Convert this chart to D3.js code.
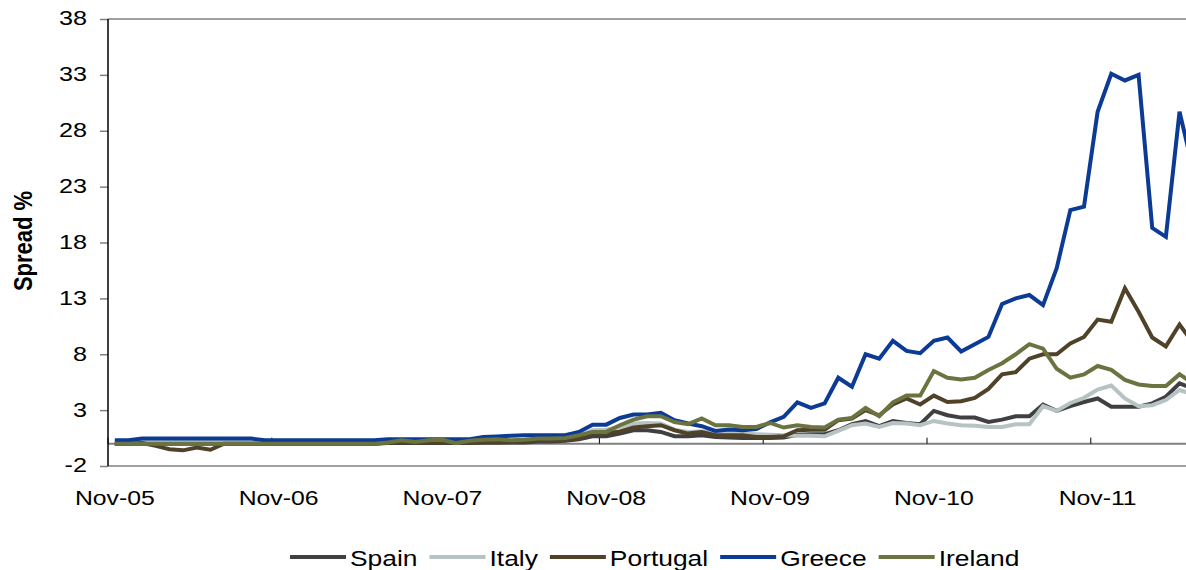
<!DOCTYPE html>
<html>
<head>
<meta charset="utf-8">
<script src="https://cdn.jsdelivr.net/npm/d3@7"></script>
<style>
    body { margin: 0; background: #ffffff; overflow: hidden; }
    text { font-family: Arial, "Liberation Sans", sans-serif; fill: #000000; }
</style>
</head>
<body>
<div id="container"></div>
<script>
"use strict"

// monthly categories, Nov-05 .. Jun-12
const months = d3.timeMonth.range(new Date(2005, 10, 1), new Date(2012, 6, 1));
const tickLabels = ["Nov-05", "Nov-06", "Nov-07", "Nov-08", "Nov-09", "Nov-10", "Nov-11"];
const yTicks = [-2, 3, 8, 13, 18, 23, 28, 33, 38];
const seriesNames = ["Spain", "Italy", "Portugal", "Greece", "Ireland"];

const spain = [
    0, 0, 0, 0, 0, 0, 0, 0, 0, 0, 0, 0, 0, 0, 0, 0, 0, 0, 0, 0,
    0.05, 0.05, 0.05, 0.05, 0.05, 0.05, 0.05, 0.1, 0.1, 0.1, 0.1,
    0.2, 0.2, 0.25, 0.4, 0.66, 0.66, 0.9, 1.2, 1.2, 1.05, 0.66, 0.66, 0.75, 0.6, 0.55, 0.5, 0.5, 0.5, 0.55,
    0.8, 0.85, 0.85, 1.2, 1.74, 2.03, 1.56, 2.03, 1.85, 1.74, 2.93, 2.54, 2.33, 2.33, 1.94, 2.15, 2.45, 2.45,
    3.5, 2.93, 3.35, 3.73, 4.04, 3.3, 3.3, 3.3, 3.6, 4.2, 5.4, 4.9
];
const italy = [
    0.15, 0.15, 0.15, 0.15, 0.15, 0.15, 0.15, 0.15, 0.15, 0.15, 0.15, 0.15, 0.15, 0.15, 0.15, 0.15, 0.15, 0.15, 0.15, 0.15,
    0.2, 0.2, 0.2, 0.2, 0.2, 0.2, 0.2, 0.2, 0.2, 0.2, 0.25,
    0.4, 0.4, 0.45, 0.7, 1.2, 1.25, 1.5, 1.8, 1.85, 1.8, 1.25, 1.05, 1.1, 0.96, 0.96, 0.9, 0.85, 0.8, 0.75,
    0.7, 0.7, 0.66, 1.14, 1.65, 1.8, 1.5, 1.85, 1.8, 1.65, 2.03, 1.8, 1.65, 1.6, 1.5, 1.5, 1.74, 1.74,
    3.35, 2.93, 3.64, 4.1, 4.84, 5.2, 4.04, 3.35, 3.44, 3.9, 4.8, 4.4
];
const portugal = [
    0, 0, 0.05, -0.2, -0.5, -0.6, -0.35, -0.55, 0, 0, 0, 0, 0, 0, 0, 0, 0, 0, 0, 0,
    0.1, 0.1, 0.1, 0.1, 0.1, 0.1, 0.1, 0.1, 0.1, 0.15, 0.2,
    0.3, 0.3, 0.3, 0.45, 0.9, 0.9, 1.1, 1.44, 1.56, 1.65, 1.2, 0.9, 1.05, 0.75, 0.75, 0.75, 0.6, 0.6, 0.66,
    1.2, 1.25, 1.25, 2.1, 2.25, 3.0, 2.54, 3.5, 4.04, 3.5, 4.3, 3.73, 3.8, 4.1, 4.9, 6.2, 6.4, 7.6,
    8.0, 8.0, 8.96, 9.55, 11.1, 10.9, 13.9, 11.8, 9.5, 8.7, 10.66, 9.0
];
const greece = [
    0.3, 0.3, 0.45, 0.45, 0.45, 0.45, 0.45, 0.45, 0.45, 0.45, 0.45, 0.3, 0.3, 0.3, 0.3, 0.3, 0.3, 0.3, 0.3, 0.3,
    0.4, 0.4, 0.4, 0.4, 0.4, 0.4, 0.4, 0.6, 0.65, 0.7, 0.75,
    0.75, 0.75, 0.75, 1.05, 1.7, 1.7, 2.3, 2.6, 2.6, 2.75, 2.1, 1.8, 1.56, 1.14, 1.26, 1.2, 1.3, 1.9, 2.4,
    3.7, 3.2, 3.6, 5.9, 5.1, 8.0, 7.6, 9.2, 8.3, 8.1, 9.2, 9.5, 8.25, 8.9, 9.55, 12.5, 13.0, 13.3,
    12.4, 15.7, 20.9, 21.2, 29.7, 33.1, 32.5, 33.0, 19.3, 18.5, 29.7, 24.5
];
const ireland = [
    0, 0, 0, 0, 0, 0, 0, 0, 0, 0, 0, 0, 0, 0, 0, 0, 0, 0, 0, 0,
    0.1, 0.3, 0.15, 0.3, 0.35, 0.05, 0.25, 0.35, 0.4, 0.3, 0.35,
    0.45, 0.45, 0.5, 0.75, 1.05, 1.05, 1.65, 2.15, 2.45, 2.45, 1.94, 1.74, 2.25, 1.65, 1.65, 1.5, 1.5, 1.85, 1.44,
    1.65, 1.5, 1.45, 2.15, 2.3, 3.2, 2.45, 3.7, 4.3, 4.3, 6.5, 5.9, 5.75, 5.9, 6.6, 7.2, 8.0, 8.9,
    8.5, 6.7, 5.9, 6.2, 6.95, 6.6, 5.7, 5.3, 5.15, 5.15, 6.2, 5.4
];

const seriesValues = [spain, italy, portugal, greece, ireland];
const seriesColors = ["#404040", "#b7c2c2", "#4f4229", "#0b3b94", "#6b7440"];

const width = 1186;
const height = 570;
const plotLeft = 108;
const plotTop = 19;
const plotBottom = 466;
const monthWidth = 13.65;
const textStretch = 1.2;
const axisGrey = "#808080";

let svg;
let xScale;
let yScale;


function Main()
{
    CreateSVG();
    CreateScales();
    DrawAxes();
    DrawLines();
    DrawLegend();
    DrawTitle();
};


function CreateSVG()
{
    svg = d3.select("#container")
        .append("svg")
        .attr("width", width)
        .attr("height", height);
};


function CreateScales()
{
    xScale = d3.scaleBand()
        .domain(months.map((_, i) => i))
        .range([plotLeft, plotLeft + months.length * monthWidth])
        .paddingInner(0)
        .paddingOuter(0);

    yScale = d3.scaleLinear()
        .domain([-2, 38])
        .range([plotBottom, plotTop]);
};


function DrawAxes()
{
    // y axis ticks and labels (plain hyphen for the negative tick)
    const yAxis = svg.append("g")
        .attr("transform", `translate(${plotLeft},0)`)
        .call(d3.axisLeft(yScale).tickValues(yTicks).tickSize(8).tickFormat(d => String(d)));

    yAxis.select(".domain").remove();
    yAxis.selectAll(".tick line")
        .attr("stroke", axisGrey)
        .attr("stroke-width", 1.5);
    yAxis.selectAll(".tick text")
        .attr("x", null)
        .attr("dy", "0.33em")
        .attr("text-anchor", "end")
        .attr("transform", `translate(-21,-1) scale(${textStretch},1)`)
        .style("font-size", "21px")
        .style("font-family", "Arial, 'Liberation Sans', sans-serif");

    // top and bottom lines
    [38, -2].forEach(v => {
        svg.append("line")
            .attr("x1", plotLeft)
            .attr("x2", width)
            .attr("y1", yScale(v))
            .attr("y2", yScale(v))
            .attr("stroke", axisGrey)
            .attr("stroke-width", 1.5);
    });

    // zero line
    svg.append("line")
        .attr("x1", plotLeft)
        .attr("x2", width)
        .attr("y1", yScale(0))
        .attr("y2", yScale(0))
        .attr("stroke", axisGrey)
        .attr("stroke-width", 2);

    // category ticks on the zero line, one per year
    const yearStarts = tickLabels.map((_, i) => i * 12);
    svg.append("g")
        .selectAll("line")
        .data(yearStarts)
        .enter()
        .append("line")
        .attr("x1", d => xScale(d))
        .attr("x2", d => xScale(d))
        .attr("y1", yScale(0))
        .attr("y2", yScale(0) - 6)
        .attr("stroke", "#000000")
        .attr("stroke-width", 1);

    svg.append("g")
        .selectAll("text")
        .data(tickLabels)
        .enter()
        .append("text")
        .attr("transform", (_, i) => `translate(${xScale(i * 12) + xScale.bandwidth() / 2},505) scale(1.18,1)`)
        .attr("text-anchor", "middle")
        .style("font-size", "21px")
        .text(d => d);

    // left axis line
    svg.append("line")
        .attr("x1", plotLeft)
        .attr("x2", plotLeft)
        .attr("y1", plotTop)
        .attr("y2", plotBottom)
        .attr("stroke", "#000000")
        .attr("stroke-width", 1.5);
};


function DrawLines()
{
    const line = d3.line()
        .x((_, i) => xScale(i) + xScale.bandwidth() / 2)
        .y(d => yScale(d));

    svg.append("g")
        .selectAll("path")
        .data(seriesValues)
        .enter()
        .append("path")
        .attr("d", d => line(d))
        .attr("fill", "none")
        .attr("stroke", (_, i) => seriesColors[i])
        .attr("stroke-width", 4)
        .attr("stroke-linejoin", "miter");
};


function DrawLegend()
{
    const legend = svg.append("g");
    const lineLength = 56;
    const legendY = 557;
    let x = 290;

    seriesNames.forEach((name, i) => {
        legend.append("line")
            .attr("x1", x)
            .attr("x2", x + lineLength)
            .attr("y1", legendY)
            .attr("y2", legendY)
            .attr("stroke", seriesColors[i])
            .attr("stroke-width", 4);

        const label = legend.append("text")
            .attr("transform", `translate(${x + lineLength + 4},${legendY + 9}) scale(${textStretch},1)`)
            .style("font-size", "22px")
            .text(name);

        x += lineLength + 4 + label.node().getComputedTextLength() * textStretch + 12;
    });
};


function DrawTitle()
{
    svg.append("text")
        .attr("transform", `translate(32,241) rotate(-90) scale(1,${textStretch})`)
        .attr("text-anchor", "middle")
        .style("font-size", "22px")
        .style("font-weight", "bold")
        .text("Spread %");
};


Main();
</script>
</body>
</html>
